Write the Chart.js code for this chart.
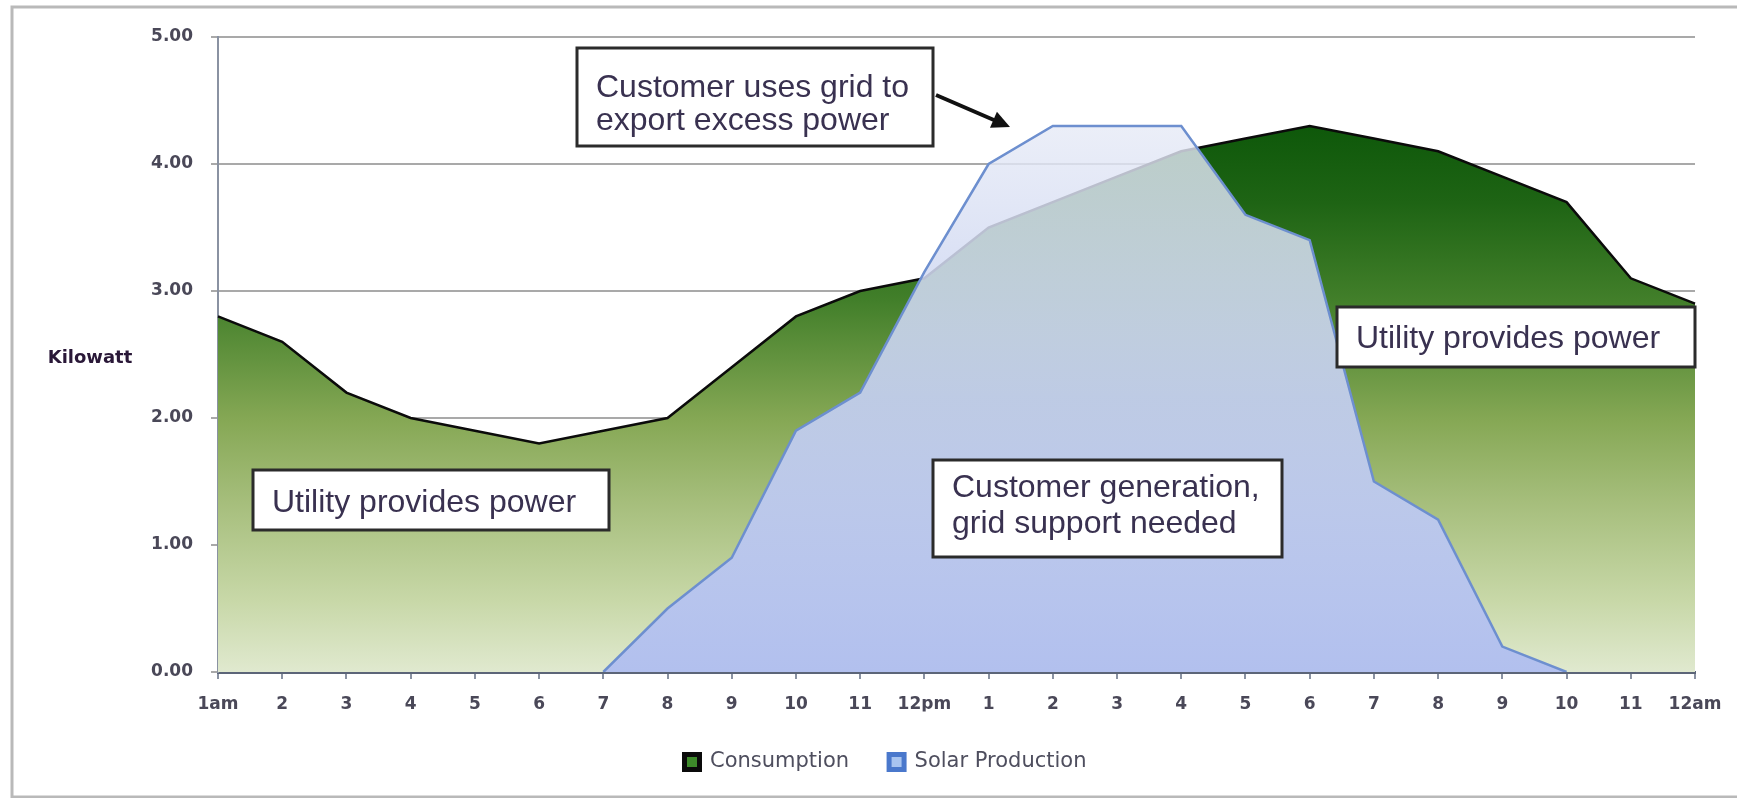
<!DOCTYPE html>
<html>
<head>
<meta charset="utf-8">
<script src="https://cdn.jsdelivr.net/npm/chart.js@4.4.0/dist/chart.umd.min.js"></script>
<style>
html, body { margin: 0; padding: 0; background: #fff; }
</style>
</head>
<body>
<canvas id="solarChart" width="1737" height="798"></canvas>
<script>
// hourly values (kW)
const hours = ['1am', '2', '3', '4', '5', '6', '7', '8', '9', '10', '11', '12pm', '1', '2', '3', '4', '5', '6', '7', '8', '9', '10', '11', '12am']
const consumption = [2.8, 2.6, 2.2, 2.0, 1.9, 1.8, 1.9, 2.0, 2.4, 2.8, 3.0, 3.1, 3.5, 3.7, 3.9, 4.1, 4.2, 4.3, 4.2, 4.1, 3.9, 3.7, 3.1, 2.9]
const solar = [null, null, null, null, null, null, 0, 0.5, 0.9, 1.9, 2.2, 3.15, 4.0, 4.3, 4.3, 4.3, 3.6, 3.4, 1.5, 1.2, 0.2, 0, null, null]
const seriesNames = ['Consumption', 'Solar Production']
const yMin = 0
const yMax = 5

// call-out boxes, canvas pixels
const notes = [
    { x: 577, y: 48, w: 356, h: 98, lines: ['Customer uses grid to', 'export excess power'], base: 97, gap: 33 },
    { x: 253, y: 470, w: 356, h: 60, lines: ['Utility provides power'], base: 512, gap: 0 },
    { x: 933, y: 460, w: 349, h: 97, lines: ['Customer generation,', 'grid support needed'], base: 497, gap: 36 },
    { x: 1337, y: 307, w: 358, h: 60, lines: ['Utility provides power'], base: 348, gap: 0 }
]

function topPx(chart) {
    return chart.scales.y.getPixelForValue(Math.max(...consumption))
}

function greenFill(ctx) {
    const chart = ctx.chart
    if (!chart.chartArea) return '#5a8a3a'
    const g = chart.ctx.createLinearGradient(0, topPx(chart), 0, chart.scales.y.getPixelForValue(0))
    g.addColorStop(0, '#0e580a')
    g.addColorStop(0.14, '#1e6414')
    g.addColorStop(0.32, '#427f2a')
    g.addColorStop(0.54, '#86a855')
    g.addColorStop(0.69, '#a6be7c')
    g.addColorStop(0.87, '#c8d8a8')
    g.addColorStop(1, '#e0e9cf')
    return g
}

function blueFill(ctx) {
    const chart = ctx.chart
    if (!chart.chartArea) return 'rgba(180,195,238,0.9)'
    const g = chart.ctx.createLinearGradient(0, topPx(chart), 0, chart.scales.y.getPixelForValue(0))
    g.addColorStop(0, 'rgba(230,234,246,0.8)')
    g.addColorStop(0.5, 'rgba(195,206,240,0.93)')
    g.addColorStop(1, 'rgba(178,192,238,1)')
    return g
}

const framePlugin = {
    id: 'frame',
    beforeDraw(chart) {
        const c = chart.ctx
        c.save()
        c.fillStyle = '#fff'
        c.fillRect(0, 0, chart.width, chart.height)
        c.strokeStyle = '#b9b9b9'
        c.lineWidth = 3
        c.beginPath()
        c.moveTo(chart.width, 7)
        c.lineTo(12, 7)
        c.lineTo(12, 797)
        c.lineTo(chart.width, 797)
        c.stroke()
        c.restore()
    }
}

const notesPlugin = {
    id: 'notes',
    afterDraw(chart) {
        const c = chart.ctx
        c.save()
        // axis caption
        c.font = 'bold 18px "DejaVu Sans"'
        c.fillStyle = '#2a1838'
        c.textAlign = 'center'
        c.textBaseline = 'middle'
        c.fillText('Kilowatt', 90, 358)

        c.textAlign = 'left'
        c.textBaseline = 'alphabetic'
        notes.forEach(n => {
            c.fillStyle = '#fff'
            c.fillRect(n.x, n.y, n.w, n.h)
            c.strokeStyle = '#2b2b2b'
            c.lineWidth = 3
            c.strokeRect(n.x, n.y, n.w, n.h)
            c.fillStyle = '#393150'
            c.font = '32px "Liberation Sans"'
            n.lines.forEach((t, i) => c.fillText(t, n.x + 19, n.base + i * n.gap))
        })

        // arrow to the solar peak
        const x1 = 936, y1 = 95, x2 = 1010, y2 = 127
        const a = Math.atan2(y2 - y1, x2 - x1)
        c.strokeStyle = '#111'
        c.fillStyle = '#111'
        c.lineWidth = 4
        c.beginPath()
        c.moveTo(x1, y1)
        c.lineTo(x2 - 10 * Math.cos(a), y2 - 10 * Math.sin(a))
        c.stroke()
        c.beginPath()
        c.moveTo(x2, y2)
        c.lineTo(x2 - 20 * Math.cos(a - 0.45), y2 - 20 * Math.sin(a - 0.45))
        c.lineTo(x2 - 20 * Math.cos(a + 0.45), y2 - 20 * Math.sin(a + 0.45))
        c.closePath()
        c.fill()
        c.restore()
    }
}

const legendColors = [
    { fill: '#3d8a2a', stroke: '#0a0a0a' },
    { fill: '#a8c4f0', stroke: '#4a78cc' }
]

const tickFont = { family: 'DejaVu Sans', size: 17, weight: 'bold' }

const solarChart = new Chart(document.getElementById('solarChart'), {
    type: 'line',
    data: {
        labels: hours,
        datasets: [{
            label: seriesNames[0],
            data: consumption,
            borderColor: '#0b0b0b',
            borderWidth: 2.5,
            backgroundColor: greenFill,
            fill: 'origin',
            pointRadius: 0,
            tension: 0,
            order: 2
        }, {
            label: seriesNames[1],
            data: solar,
            borderColor: '#6d8fcf',
            borderWidth: 2.5,
            backgroundColor: blueFill,
            fill: 'origin',
            pointRadius: 0,
            tension: 0,
            order: 1
        }]
    },
    options: {
        responsive: false,
        animation: false,
        layout: { padding: { left: 76, right: 42, top: 37, bottom: 15.5 } },
        scales: {
            x: {
                offset: false,
                afterFit: s => { s.height = 39.5 },
                grid: { drawOnChartArea: false, tickLength: 7, color: '#8a92a2', lineWidth: 2 },
                border: { color: '#5c6578', width: 3 },
                ticks: { autoSkip: false, maxRotation: 0, padding: 15, color: '#4a4858', font: tickFont }
            },
            y: {
                min: yMin,
                max: yMax,
                afterFit: s => { s.width = 142 },
                grid: { color: '#a9a9a9', lineWidth: 2, tickLength: 7 },
                border: { color: '#8a92a2', width: 2 },
                ticks: { stepSize: 1, padding: 18, color: '#4a4858', font: tickFont, callback: v => v.toFixed(2) }
            }
        },
        plugins: {
            tooltip: { enabled: false },
            legend: {
                position: 'bottom',
                labels: {
                    font: { family: 'DejaVu Sans', size: 21 },
                    color: '#4e4e5e',
                    boxWidth: 15,
                    boxHeight: 15,
                    padding: 40,
                    generateLabels: chart => chart.data.datasets.map((ds, i) => ({
                        text: ds.label,
                        fillStyle: legendColors[i].fill,
                        strokeStyle: legendColors[i].stroke,
                        lineWidth: 5,
                        fontColor: '#4e4e5e',
                        datasetIndex: i,
                        hidden: false
                    }))
                }
            }
        }
    },
    plugins: [framePlugin, notesPlugin]
})
</script>
</body>
</html>
